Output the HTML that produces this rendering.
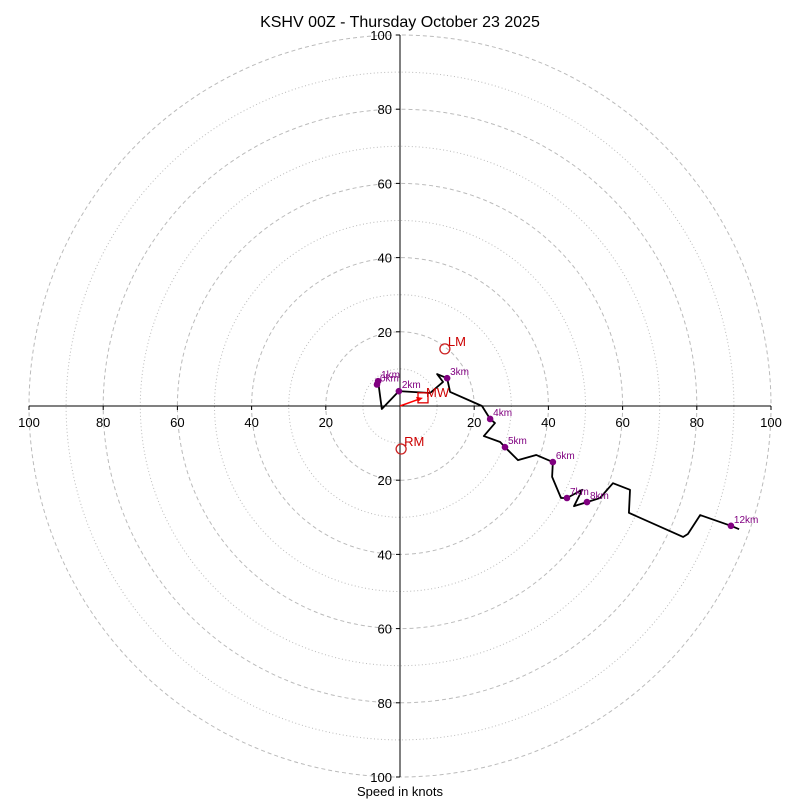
<!DOCTYPE html>
<html><head><meta charset="utf-8"><style>
body{margin:0;background:#fff}
svg{display:block;font-family:"Liberation Sans","DejaVu Sans",sans-serif}
</style></head><body>
<svg id="c" width="800" height="800" viewBox="0 0 800 800">
<text x="400" y="27" text-anchor="middle" font-size="16">KSHV 00Z - Thursday October 23 2025</text>
<text x="400" y="796" text-anchor="middle" font-size="13">Speed in knots</text>
</svg>
<script>
const ringValues=[10,20,30,40,50,60,70,80,90,100];
const tickValues=[20,40,60,80,100];
const traceU=[-5.9,-4.9,-0.3,8.1,11.6,10.0,12.7,13.5,22.1,24.3,25.6,22.6,27.0,28.3,31.8,36.7,41.2,41.0,43.4,45.0,49.1,46.9,50.4,53.9,57.4,62.0,61.7,76.3,77.6,80.9,89.2,91.4];
const traceV=[6.7,-0.8,4.0,3.5,6.5,8.6,7.5,3.8,0,-3.5,-4.6,-8.1,-9.7,-11.1,-14.6,-13.2,-15.1,-19.1,-24.8,-24.8,-22.6,-27.0,-25.9,-24.8,-20.8,-22.6,-28.8,-35.3,-34.5,-29.4,-32.3,-33.2];
const markerLabels=["0km","1km","2km","3km","4km","5km","6km","7km","8km","12km"];
const markerU=[-6.2,-5.9,-0.3,12.7,24.3,28.3,41.2,45.0,50.4,89.2];
const markerV=[5.8,6.7,4.0,7.5,-3.5,-11.1,-15.1,-24.8,-25.9,-32.3];
const lmU=12.1, lmV=15.4, rmU=0.3, rmV=-11.6, mwU=6.2, mwV=2.2;

const cx=400, cy=406, sc=3.71;
const X=u=>cx+u*sc, Y=v=>cy-v*sc;
const svg=document.getElementById('c');
const NS='http://www.w3.org/2000/svg';
function mk(tag,attrs,parent){const e=document.createElementNS(NS,tag);for(const k in attrs)e.setAttribute(k,attrs[k]);(parent||svg).appendChild(e);return e;}

ringValues.forEach(r=>{
  const e=mk('circle',{cx:cx,cy:cy,r:r*sc,fill:'none',stroke:'#bbb','stroke-width':1,'stroke-dasharray':r%20===0?'4,3':'1,2.5'});
  
  
});
let a=mk('line',{x1:X(-100),y1:cy,x2:X(100),y2:cy,stroke:'#000','stroke-width':1});


a=mk('line',{x1:cx,y1:Y(100),x2:cx,y2:Y(-100),stroke:'#000','stroke-width':1});


tickValues.forEach(t=>{
  [1,-1].forEach(s=>{
    mk('line',{x1:X(s*t),y1:cy,x2:X(s*t),y2:cy+4,stroke:'#000'});
    let l=mk('text',{x:X(s*t),y:cy+21,'text-anchor':'middle','font-size':13});
    l.textContent=t;
    
    
    mk('line',{x1:cx-4,y1:Y(s*t),x2:cx,y2:Y(s*t),stroke:'#000'});
    l=mk('text',{x:cx-8,y:Y(s*t)+5,'text-anchor':'end','font-size':13});
    l.textContent=t;
    
    
  });
});
let pts=traceU.map((u,i)=>X(u)+','+Y(traceV[i])).join(' ');
let tr=mk('polyline',{points:pts,fill:'none',stroke:'#000','stroke-width':1.8,'stroke-linejoin':'round'});


markerLabels.forEach((lab,i)=>{
  const d=mk('circle',{cx:X(markerU[i]),cy:Y(markerV[i]),r:3.3,fill:'purple'});
  
  
  const t=mk('text',{x:X(markerU[i])+3,y:Y(markerV[i])-3,'font-size':10,fill:'purple'});
  t.textContent=lab;
  
  
});
let ar=mk('line',{x1:cx,y1:cy,x2:X(mwU)-3,y2:Y(mwV)+1,stroke:'red','stroke-width':1.5});


mk('polygon',{points:`${X(mwU)},${Y(mwV)} ${X(mwU)-7},${Y(mwV)-1} ${X(mwU)-5},${Y(mwV)+4}`,fill:'red'});
let sq=mk('rect',{x:X(mwU)-5,y:Y(mwV)-5,width:10,height:10,fill:'none',stroke:'#d00','stroke-width':1.3});


let t=mk('text',{x:X(mwU)+3,y:Y(mwV)-1,'font-size':13,fill:'#c00'});t.textContent='MW';


[[lmU,lmV,'LM'],[rmU,rmV,'RM']].forEach(([u,v,n])=>{
  const c=mk('circle',{cx:X(u),cy:Y(v),r:5,fill:'none',stroke:'#c22','stroke-width':1.3});
  
  
  const l=mk('text',{x:X(u)+3,y:Y(v)-3,'font-size':13,fill:'#c00'});l.textContent=n;
  
  
});
</script>
</body></html>
